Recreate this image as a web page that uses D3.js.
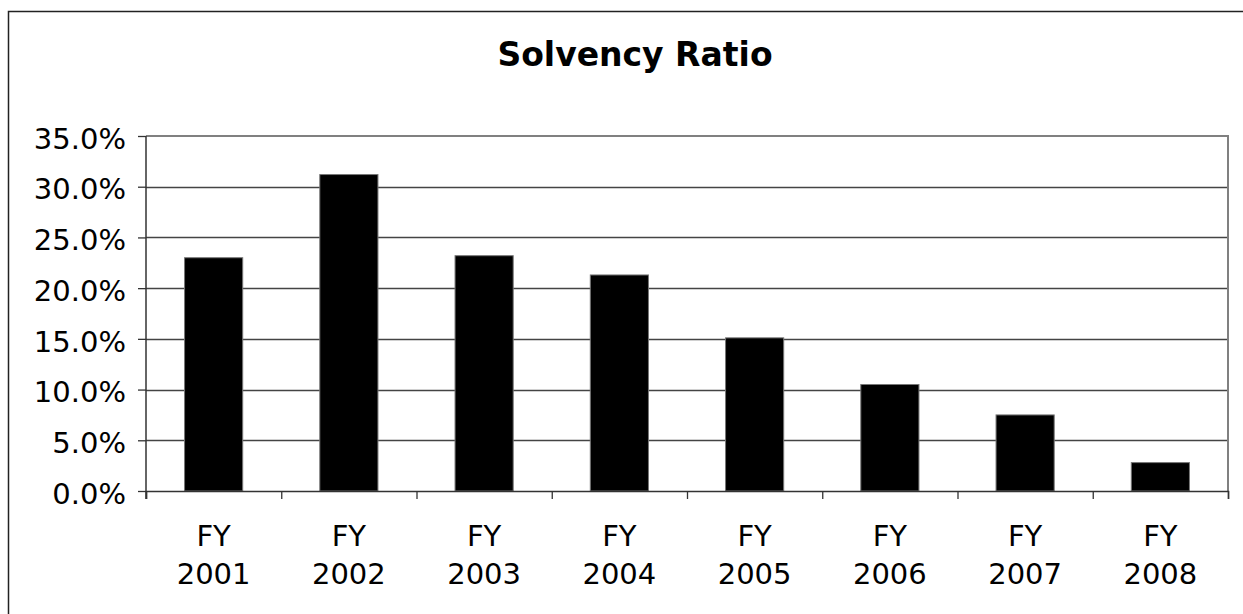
<!DOCTYPE html>
<html>
<head>
<meta charset="utf-8">
<script src="https://cdn.jsdelivr.net/npm/d3@7"></script>
<style>
  html, body { margin: 0; padding: 0; background: #fff; }
  svg { display: block; font-family: "DejaVu Sans", sans-serif; }
</style>
</head>
<body>
<div id="chart"></div>
<script>
// Data
const years = ["2001", "2002", "2003", "2004", "2005", "2006", "2007", "2008"];
const categoryPrefix = "FY";
const solvency = [23.0, 31.2, 23.2, 21.3, 15.1, 10.5, 7.5, 2.8];
const yTicks = [0, 5, 10, 15, 20, 25, 30, 35];
const chartTitle = "Solvency Ratio";

// Layout
const width = 1243;
const height = 614;
const plot = { left: 146, right: 1228, top: 136, bottom: 491 };
const labelSize = "29px";

const svg = d3.select("#chart")
    .append("svg")
    .attr("width", width)
    .attr("height", height);

// outer chart border (runs off the right and bottom of the picture)
svg.append("rect")
    .attr("x", 8.5)
    .attr("y", 11.5)
    .attr("width", 1400)
    .attr("height", 1000)
    .attr("fill", "none")
    .attr("stroke", "#222")
    .attr("stroke-width", 1.5);

svg.append("text")
    .attr("x", 635)
    .attr("y", 66)
    .attr("text-anchor", "middle")
    .style("font-size", "33px")
    .style("font-weight", "bold")
    .text(chartTitle);

const y = d3.scaleLinear().domain([0, 35]).range([plot.bottom, plot.top]);
const x = d3.scaleBand()
    .domain(years)
    .range([plot.left, plot.right])
    .paddingInner(0.57)
    .paddingOuter(0.285);
const boundary = d3.scaleLinear()
    .domain([0, years.length])
    .range([plot.left, plot.right]);

// gridlines
svg.append("g")
    .selectAll("line")
    .data(yTicks.slice(1, -1))
    .join("line")
    .attr("x1", plot.left)
    .attr("x2", plot.right)
    .attr("y1", d => Math.round(y(d)) + 0.5)
    .attr("y2", d => Math.round(y(d)) + 0.5)
    .attr("stroke", "#444")
    .attr("stroke-width", 1.3);

// plot area top / right border
svg.append("path")
    .attr("d", `M${plot.left},${plot.top}H${plot.right}V${plot.bottom}`)
    .attr("fill", "none")
    .attr("stroke", "#808080")
    .attr("stroke-width", 2);

// bars
svg.append("g")
    .selectAll("rect")
    .data(solvency)
    .join("rect")
    .attr("x", (d, i) => x(years[i]))
    .attr("y", d => y(d))
    .attr("width", x.bandwidth())
    .attr("height", d => y(0) - y(d))
    .attr("fill", "#000")
    .attr("stroke", "#777")
    .attr("stroke-width", 1);

// y axis
const yAxis = svg.append("g")
    .attr("transform", `translate(${plot.left},0)`)
    .call(d3.axisLeft(y).tickValues(yTicks).tickSize(8).tickPadding(12)
        .tickFormat(d => d3.format(".1f")(d) + "%"));
yAxis.attr("font-family", null);
yAxis.select(".domain").attr("stroke", "#333").attr("stroke-width", 1.5)
    .attr("d", `M0,${plot.top}V${plot.bottom + 8}`);
yAxis.selectAll(".tick line").attr("stroke", "#333").attr("stroke-width", 1.3);
yAxis.selectAll(".tick text")
    .attr("dy", "0.42em")
    .style("font-size", labelSize)
    .style("fill", "#000");

// x axis line + ticks at category boundaries
const xAxis = svg.append("g")
    .attr("transform", `translate(0,${plot.bottom})`)
    .call(d3.axisBottom(boundary).tickValues(d3.range(years.length + 1)).tickSize(8)
        .tickFormat(""));
xAxis.select(".domain").attr("stroke", "#333").attr("stroke-width", 1.5);
xAxis.selectAll(".tick line").attr("stroke", "#333").attr("stroke-width", 1.3);

// category labels on two lines
const labels = svg.append("g")
    .selectAll("text")
    .data(years)
    .join("text")
    .attr("x", d => x(d) + x.bandwidth() / 2)
    .attr("text-anchor", "middle")
    .style("font-size", labelSize);
labels.append("tspan")
    .attr("x", d => x(d) + x.bandwidth() / 2)
    .attr("y", 546)
    .text(categoryPrefix);
labels.append("tspan")
    .attr("x", d => x(d) + x.bandwidth() / 2)
    .attr("y", 584)
    .text(d => d);
</script>
</body>
</html>
